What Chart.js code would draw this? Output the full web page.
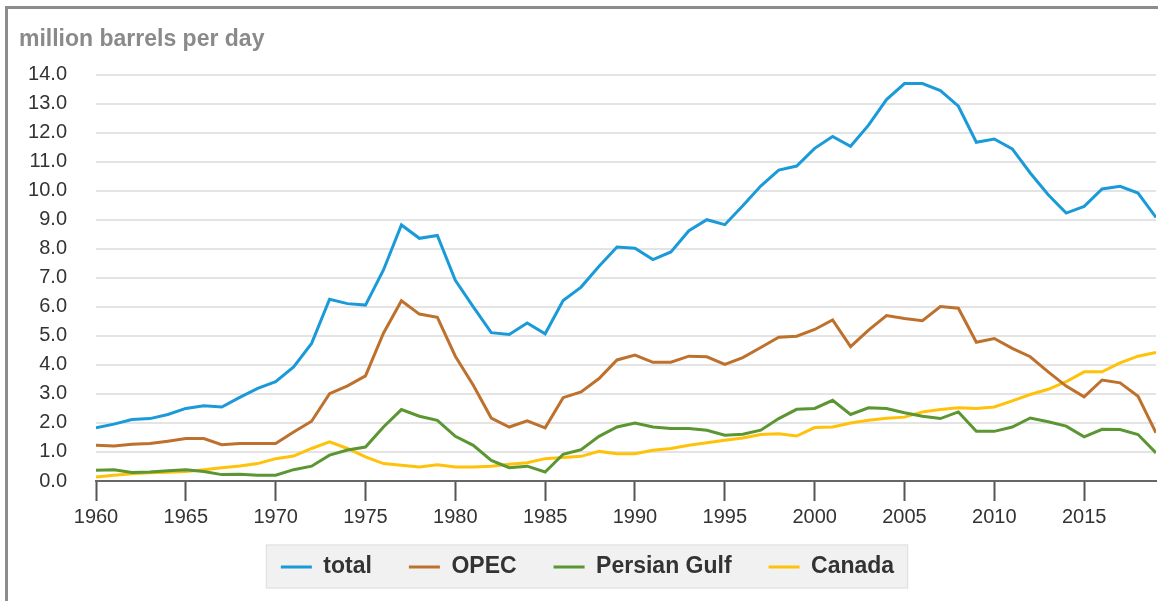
<!DOCTYPE html>
<html>
  <head>
    <title>million barrels per day</title>
    <script src="https://cdn.jsdelivr.net/npm/chart.js@4"></script>
    <style>
      body { margin: 0; background: #fff; }
      #wrap { position: relative; width: 1158px; height: 601px; }
      #frame {
        position: absolute; left: 5px; top: 6px; right: 0; bottom: 0;
        border-left: 3px solid #8c8c8c; border-top: 3px solid #8c8c8c;
        pointer-events: none;
      }
      canvas { position: absolute; left: 0; top: 0; }
    </style>
  </head>
  <body>
    <div id="wrap">
      <canvas id="oilChart" width="1158" height="601"></canvas>
      <div id="frame"></div>
    </div>
    <script>
      // years 1960..2019
      var years = [];
      for (var yr = 1960; yr <= 2019; yr++) years.push(yr);

      var total = [
        1.83, 1.96, 2.12, 2.15, 2.29, 2.50, 2.59, 2.55, 2.88, 3.19,
        3.42, 3.93, 4.74, 6.26, 6.11, 6.06, 7.27, 8.82, 8.36, 8.46,
        6.91, 6.00, 5.11, 5.05, 5.44, 5.07, 6.22, 6.68, 7.40, 8.06,
        8.02, 7.63, 7.89, 8.62, 9.00, 8.83, 9.48, 10.16, 10.71, 10.85,
        11.46, 11.87, 11.53, 12.26, 13.14, 13.69, 13.69, 13.45, 12.91, 11.67,
        11.78, 11.44, 10.61, 9.86, 9.23, 9.46, 10.06, 10.15, 9.92, 9.08
      ];
      var opec = [
        1.23, 1.21, 1.27, 1.29, 1.37, 1.46, 1.46, 1.25, 1.29, 1.29,
        1.29, 1.69, 2.06, 3.01, 3.28, 3.62, 5.09, 6.21, 5.75, 5.64,
        4.30, 3.30, 2.17, 1.86, 2.07, 1.83, 2.87, 3.07, 3.53, 4.17,
        4.34, 4.09, 4.09, 4.30, 4.28, 4.02, 4.25, 4.60, 4.95, 4.99,
        5.22, 5.55, 4.63, 5.20, 5.70, 5.60, 5.52, 6.01, 5.95, 4.78,
        4.91, 4.57, 4.28, 3.76, 3.27, 2.90, 3.48, 3.38, 2.92, 1.66
      ];
      var persianGulf = [
        0.37, 0.39, 0.29, 0.31, 0.35, 0.39, 0.33, 0.22, 0.23, 0.20,
        0.20, 0.39, 0.51, 0.89, 1.07, 1.17, 1.86, 2.46, 2.23, 2.09,
        1.54, 1.23, 0.71, 0.46, 0.51, 0.31, 0.92, 1.08, 1.54, 1.86,
        2.00, 1.86, 1.81, 1.81, 1.75, 1.58, 1.61, 1.75, 2.15, 2.47,
        2.50, 2.78, 2.29, 2.52, 2.50, 2.35, 2.23, 2.15, 2.38, 1.71,
        1.71, 1.86, 2.17, 2.04, 1.89, 1.52, 1.78, 1.77, 1.60, 0.97
      ];
      var canada = [
        0.14, 0.20, 0.25, 0.28, 0.30, 0.33, 0.39, 0.46, 0.52, 0.60,
        0.77, 0.86, 1.12, 1.35, 1.12, 0.83, 0.60, 0.54, 0.48, 0.56,
        0.48, 0.48, 0.51, 0.58, 0.63, 0.77, 0.81, 0.85, 1.02, 0.94,
        0.94, 1.06, 1.12, 1.23, 1.32, 1.40, 1.48, 1.60, 1.63, 1.55,
        1.84, 1.86, 2.00, 2.09, 2.16, 2.20, 2.38, 2.46, 2.52, 2.50,
        2.55, 2.76, 2.98, 3.16, 3.42, 3.76, 3.76, 4.07, 4.30, 4.43
      ];

      var seriesNames = ["total", "OPEC", "Persian Gulf", "Canada"];
      var seriesColors = ["#1a9ad8", "#bd712d", "#5b9633", "#ffc20a"];
      var seriesValues = [total, opec, persianGulf, canada];

      function points(values) {
        return values.map(function (v, i) {
          return { x: years[i], y: v };
        });
      }

      // lift the legend a little so it sits closer to the year labels,
      // and paint the grey box behind it
      var legendBox = {
        id: "legendBox",
        afterLayout: function (chart) {
          var lg = chart.legend;
          if (!lg) return;
          lg.top -= 10.5;
          lg.bottom -= 10.5;
        },
        beforeDraw: function (chart) {
          var boxes = chart.legend && chart.legend.legendHitBoxes;
          if (!boxes || !boxes.length) return;
          var first = boxes[0], last = boxes[boxes.length - 1];
          var x0 = first.left - 15, x1 = last.left + last.width + 14;
          var y0 = first.top - 11, y1 = first.top + first.height + 10;
          var ctx = chart.ctx;
          ctx.save();
          ctx.fillStyle = "#f1f1f1";
          ctx.fillRect(x0, y0, x1 - x0, y1 - y0);
          ctx.strokeStyle = "#dedede";
          ctx.lineWidth = 1;
          ctx.strokeRect(x0 + 0.5, y0 + 0.5, x1 - x0 - 1, y1 - y0 - 1);
          ctx.restore();
        }
      };

      var datasets = seriesNames.map(function (name, i) {
        return {
          label: name,
          data: points(seriesValues[i]),
          borderColor: seriesColors[i],
          backgroundColor: seriesColors[i],
          borderWidth: 3,
          pointRadius: 0,
          tension: 0,
          fill: false
        };
      });

      new Chart(document.getElementById("oilChart").getContext("2d"), {
        type: "line",
        data: { datasets: datasets },
        plugins: [legendBox],
        options: {
          responsive: false,
          animation: false,
          layout: { padding: { left: 19, right: 2, top: 0, bottom: 2 } },
          plugins: {
            title: {
              display: true,
              text: "million barrels per day",
              align: "start",
              color: "#8a8a8a",
              font: { family: "'Liberation Sans', Arial, sans-serif", size: 23, weight: "bold" },
              padding: { top: 26, bottom: 21 }
            },
            legend: {
              position: "bottom",
              labels: {
                color: "#333",
                font: { family: "'Liberation Sans', Arial, sans-serif", size: 23, weight: "bold" },
                boxWidth: 31,
                boxHeight: 3,
                padding: 37,
                generateLabels: function (chart) {
                  var items = Chart.defaults.plugins.legend.labels.generateLabels(chart);
                  items.forEach(function (it) { it.lineWidth = 0; });
                  return items;
                }
              }
            },
            tooltip: { enabled: false }
          },
          scales: {
            x: {
              type: "linear",
              min: 1960,
              max: 2019,
              afterFit: function (scale) { scale.height = 48; },
              grid: {
                drawOnChartArea: false,
                drawTicks: true,
                tickLength: 20,
                tickColor: "#555",
                tickWidth: 2
              },
              border: { display: true, color: "#666", width: 2 },
              ticks: {
                stepSize: 5,
                includeBounds: false,
                maxRotation: 0,
                padding: 4,
                color: "#333",
                font: { family: "'Liberation Sans', Arial, sans-serif", size: 20 },
                callback: function (v) { return String(v); }
              }
            },
            y: {
              min: 0,
              max: 14,
              afterFit: function (scale) { scale.width = 77; },
              grid: { color: "#e4e4e4", lineWidth: 2, drawTicks: false },
              border: { display: false },
              ticks: {
                stepSize: 1,
                padding: 29,
                color: "#333",
                font: { family: "'Liberation Sans', Arial, sans-serif", size: 20 },
                callback: function (v) { return v.toFixed(1); }
              }
            }
          }
        }
      });
    </script>
  </body>
</html>
